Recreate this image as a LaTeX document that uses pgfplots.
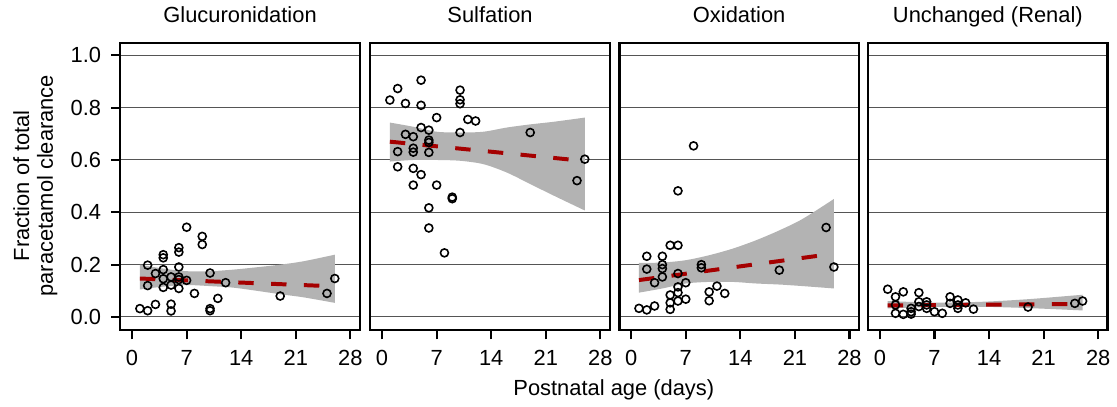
\documentclass[border=0pt]{standalone}
\usepackage{fontspec}
\setmainfont{Liberation Sans}
\usepackage{pgfplots}
\pgfplotsset{compat=1.18}
\usepackage{pgfplotstable}
\usepgfplotslibrary{fillbetween}

\definecolor{bandgray}{RGB}{179,179,179}
\definecolor{fitred}{RGB}{165,0,0}
\definecolor{gridgray}{RGB}{85,85,85}
\newcommand{\fs}{\fontsize{11pt}{12pt}\selectfont}

% ---------- data: points ----------
\pgfplotstableread{
x y
1 0.032
2 0.024
3 0.048
2 0.120
2 0.198
3 0.166
4 0.238
4 0.226
4 0.181
4 0.146
4 0.113
5 0.153
5 0.122
5 0.049
5 0.023
6 0.265
6 0.248
6 0.191
6 0.153
6 0.143
6 0.109
7 0.343
7 0.140
8 0.090
9 0.308
9 0.277
10 0.168
10 0.032
10 0.024
11 0.071
12 0.131
19 0.080
25 0.090
26 0.147
}\ptA
\pgfplotstableread{
x y
5 0.905
2 0.873
1 0.829
3 0.816
5 0.809
10 0.867
10 0.830
10 0.815
7 0.762
11 0.755
12 0.749
5 0.724
6 0.714
3 0.698
4 0.689
10 0.705
19 0.705
6 0.676
6 0.667
4 0.645
4 0.630
2 0.632
6 0.629
26 0.603
2 0.574
4 0.568
5 0.544
4 0.504
7 0.504
25 0.521
9 0.458
9 0.452
6 0.417
6 0.340
8 0.245
}\ptB
\pgfplotstableread{
x y
8 0.654
6 0.482
25 0.342
5 0.274
6 0.274
2 0.232
4 0.232
4 0.200
4 0.185
2 0.183
9 0.200
9 0.188
26 0.191
19 0.179
6 0.166
4 0.153
3 0.131
7 0.131
6 0.115
11 0.118
6 0.093
10 0.096
12 0.090
5 0.084
5 0.054
6 0.061
7 0.068
10 0.062
1 0.033
2 0.027
3 0.042
5 0.029
}\ptC
\pgfplotstableread{
x y
1 0.106
2 0.077
3 0.096
5 0.093
5 0.058
2 0.046
2 0.014
3 0.010
4 0.020
4 0.011
4 0.033
6 0.058
6 0.046
6 0.033
7 0.020
8 0.014
9 0.077
9 0.052
10 0.065
10 0.046
10 0.033
11 0.054
12 0.030
19 0.038
25 0.052
26 0.061
5 0.040
}\ptD

% ---------- data: confidence bands ----------
\pgfplotstableread{
x lo up
1 0.105 0.200
4 0.116 0.185
7 0.122 0.175
10 0.118 0.175
13 0.112 0.181
16 0.100 0.190
19 0.087 0.200
22 0.075 0.213
26 0.054 0.238
}\bA
\pgfplotstableread{
x lo up
1 0.594 0.743
4 0.600 0.727
7 0.600 0.708
10 0.597 0.705
13 0.584 0.708
16 0.552 0.724
19 0.508 0.736
22 0.464 0.746
26 0.407 0.762
}\bB
\pgfplotstableread{
x lo up
1 0.093 0.207
4 0.109 0.208
7 0.128 0.217
10 0.134 0.236
13 0.134 0.261
16 0.128 0.293
19 0.124 0.331
22 0.118 0.375
26 0.109 0.451
}\bC
\pgfplotstableread{
x lo up
1 0.033 0.061
7 0.038 0.055
13 0.039 0.058
19 0.034 0.068
26 0.025 0.085
}\bD

% ---------- data: fitted lines ----------
\pgfplotstableread{
x y
1 0.147
26 0.117
}\lA
\pgfplotstableread{
x y
1 0.670
26 0.596
}\lB
\pgfplotstableread{
x y
1 0.141
26 0.242
}\lC
\pgfplotstableread{
x y
1 0.044
26 0.050
}\lD

\pgfplotsset{
  panel/.style={
    scale only axis, width=120.3pt, height=144pt,
    anchor=south west,
    xmin=-1.5, xmax=29.2, ymin=-0.0494, ymax=1.0456,
    xtick={0,7,14,21,28}, ytick={0,0.2,0.4,0.6,0.8,1.0},
    ymajorgrids, major grid style={gridgray, line width=0.5pt},
    axis line style={line width=1.1pt},
    tick align=outside, xtick pos=lower, ytick pos=left,
    major tick length=4.7pt,
    tick style={black, line width=1.1pt},
    ticklabel style={font=\fs},
    xticklabel style={yshift=-2pt},
    /pgf/number format/assume math mode=true,
    yticklabel style={xshift=-1.5pt, /pgf/number format/.cd, fixed, fixed zerofill, precision=1},
    title style={font=\fs, at={(0.5,1)}, anchor=base, yshift=4.5pt},
  },
  noy/.style={yticklabels={}, ytick style={draw=none}},
  band/.style={bandgray, draw=none},
  fit/.style={fitred, line width=2pt, dash pattern=on 7.75pt off 8.75pt},
  pts/.style={only marks, mark=o, mark size=2pt, mark options={line width=0.8pt, black}},
}

\begin{document}
\begin{tikzpicture}

\begin{axis}[panel, at={(60.5pt,35pt)}, title={Glucuronidation}]
\addplot[name path=u, draw=none, smooth] table[x=x,y=up] {\bA};
\addplot[name path=l, draw=none, smooth] table[x=x,y=lo] {\bA};
\addplot[band] fill between[of=u and l];
\addplot[fit] table {\lA};
\addplot[pts] table {\ptA};
\end{axis}

\begin{axis}[panel, noy, at={(186.15pt,35pt)}, title={Sulfation}]
\addplot[name path=u, draw=none, smooth] table[x=x,y=up] {\bB};
\addplot[name path=l, draw=none, smooth] table[x=x,y=lo] {\bB};
\addplot[band] fill between[of=u and l];
\addplot[fit] table {\lB};
\addplot[pts] table {\ptB};
\end{axis}

\begin{axis}[panel, noy, at={(311.35pt,35pt)}, title={Oxidation}]
\addplot[name path=u, draw=none, smooth] table[x=x,y=up] {\bC};
\addplot[name path=l, draw=none, smooth] table[x=x,y=lo] {\bC};
\addplot[band] fill between[of=u and l];
\addplot[fit] table {\lC};
\addplot[pts] table {\ptC};
\end{axis}

\begin{axis}[panel, noy, at={(436.35pt,35pt)}, title={Unchanged (Renal)}]
\addplot[name path=u, draw=none, smooth] table[x=x,y=up] {\bD};
\addplot[name path=l, draw=none, smooth] table[x=x,y=lo] {\bD};
\addplot[band] fill between[of=u and l];
\addplot[fit] table {\lD};
\addplot[pts] table {\ptD};
\end{axis}

\node[font=\fs, anchor=base] at (308.5pt,2.25pt) {Postnatal age (days)};
\node[font=\fs, rotate=90, align=center, inner sep=0pt] at (17.75pt,107.5pt)
  {Fraction of total\\paracetamol clearance};
\path (0pt,0pt) rectangle (558.5pt,200pt);
\end{tikzpicture}
\end{document}
